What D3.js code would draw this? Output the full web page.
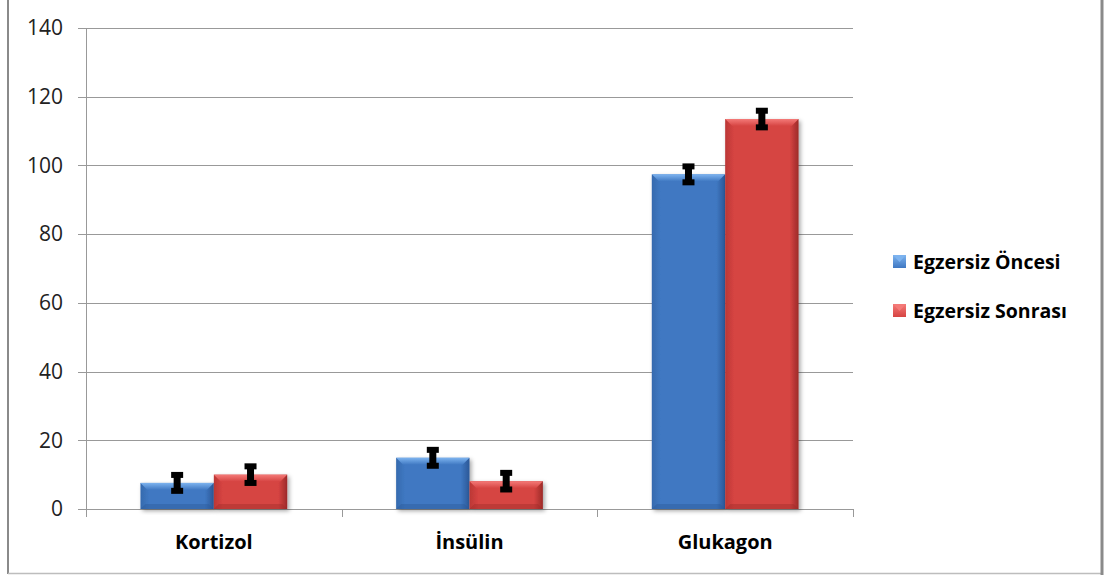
<!DOCTYPE html>
<html lang="tr">
<head>
    <meta charset="UTF-8">
    <title>Egzersiz Öncesi / Sonrası</title>
    <script src="https://d3js.org/d3.v7.min.js"></script>
    <style>
        body { margin: 0; background: #fff; }
        svg { display: block; }
        .axis-y text { font-family: "Open Sans", sans-serif; font-size: 21px; fill: #222; }
        .axis-x text { font-family: "Open Sans", sans-serif; font-size: 20px; font-weight: bold; fill: #000; }
        .axis path, .axis line { stroke: #999; shape-rendering: crispEdges; }
        .grid line { stroke: #999; shape-rendering: crispEdges; }
        .legend text { font-family: "Open Sans", sans-serif; font-size: 19.5px; font-weight: bold; fill: #000; }
    </style>
</head>
<body>
<svg width="1107" height="575"></svg>
<script>
    // data
    const categories = ["Kortizol", "İnsülin", "Glukagon"];
    const seriesNames = ["Egzersiz Öncesi", "Egzersiz Sonrası"];
    const before = [7.6, 14.9, 97.4];
    const after = [10.0, 8.1, 113.5];
    const beforeErr = [2.9, 2.9, 2.9];
    const afterErr = [3.0, 3.0, 3.0];
    const yTicks = [0, 20, 40, 60, 80, 100, 120, 140];

    const margin = { top: 28, left: 86 };
    const width = 853 - 86;
    const height = 509 - 28;

    const svg = d3.select("svg");

    // outer frame (chart area border, partly clipped)
    svg.append("line").attr("x1", 8).attr("x2", 8).attr("y1", 0).attr("y2", 574)
        .attr("stroke", "#8a8a8a").attr("stroke-width", 2);
    svg.append("line").attr("x1", 8).attr("x2", 1102).attr("y1", 573.5).attr("y2", 573.5)
        .attr("stroke", "#bdbdbd").attr("stroke-width", 1.5);
    svg.append("line").attr("x1", 1102).attr("x2", 1102).attr("y1", 0).attr("y2", 575)
        .attr("stroke", "#8a8a8a").attr("stroke-width", 3);

    const colors = [
        { main: "#3f78c2", light: "#7db3ef", dark: "#2b5797", side: "#356aae" },
        { main: "#d64442", light: "#f47a78", dark: "#9c2a28", side: "#bb3735" }
    ];

    // gradients
    const defs = svg.append("defs");
    colors.forEach((c, i) => {
        const g = defs.append("linearGradient").attr("id", "body" + i)
            .attr("x1", 0).attr("x2", 1).attr("y1", 0).attr("y2", 0);
        g.append("stop").attr("offset", "0%").attr("stop-color", c.side);
        g.append("stop").attr("offset", "12%").attr("stop-color", c.main);
        g.append("stop").attr("offset", "88%").attr("stop-color", c.main);
        g.append("stop").attr("offset", "100%").attr("stop-color", c.dark);
        const t = defs.append("linearGradient").attr("id", "top" + i)
            .attr("x1", 0).attr("x2", 0).attr("y1", 0).attr("y2", 1);
        t.append("stop").attr("offset", "0%").attr("stop-color", c.light);
        t.append("stop").attr("offset", "100%").attr("stop-color", c.main);
    });
    const shadow = defs.append("filter").attr("id", "shadow")
        .attr("x", "-20%").attr("y", "-20%").attr("width", "140%").attr("height", "140%");
    shadow.append("feDropShadow").attr("dx", 2).attr("dy", 2).attr("stdDeviation", 2)
        .attr("flood-color", "#000").attr("flood-opacity", 0.35);

    const g = svg.append("g").attr("transform", `translate(${margin.left},${margin.top})`);

    const x0 = d3.scaleBand().domain(categories).range([0, width]).paddingInner(0).paddingOuter(0);
    const x1 = d3.scaleBand().domain([0, 1]).range([x0.bandwidth() * 0.213, x0.bandwidth() * 0.787]);
    const y = d3.scaleLinear().domain([0, 140]).range([height, 0]);

    // grid
    g.append("g").attr("class", "grid")
        .selectAll("line").data(yTicks.slice(1)).enter().append("line")
        .attr("x1", 0).attr("x2", width)
        .attr("y1", d => Math.round(y(d)) + 0.5).attr("y2", d => Math.round(y(d)) + 0.5);

    // y axis
    g.append("g").attr("class", "axis axis-y")
        .call(d3.axisLeft(y).tickValues(yTicks).tickSize(8).tickPadding(15))
        .call(s => s.select(".domain").attr("d", `M0.5,0V${height}`));

    // x axis
    const xAxis = g.append("g").attr("class", "axis axis-x")
        .attr("transform", `translate(0,${height})`)
        .call(d3.axisBottom(x0).tickSize(0).tickPadding(26));
    xAxis.select(".domain").attr("d", `M0,0.5H${width}`);
    xAxis.selectAll(".bound").data(d3.range(categories.length + 1)).enter().append("line")
        .attr("class", "bound")
        .attr("x1", d => Math.round(d * x0.bandwidth()) + 0.5)
        .attr("x2", d => Math.round(d * x0.bandwidth()) + 0.5)
        .attr("y1", 0).attr("y2", 8);

    const rows = [];
    categories.forEach((c, i) => {
        rows.push({ cat: c, s: 0, v: before[i], e: beforeErr[i] });
        rows.push({ cat: c, s: 1, v: after[i], e: afterErr[i] });
    });

    const bev = 7;
    const bars = g.selectAll(".bar").data(rows).enter().append("g").attr("class", "bar")
        .attr("transform", d => `translate(${x0(d.cat) + x1(d.s)},0)`);
    const bw = x1.bandwidth();

    bars.append("rect")
        .attr("y", d => y(d.v)).attr("width", bw).attr("height", d => height - y(d.v))
        .attr("fill", d => `url(#body${d.s})`).attr("filter", "url(#shadow)");
    // top bevel
    bars.append("path")
        .attr("d", d => {
            const t = y(d.v), b = Math.min(bev, (height - t) / 2);
            return `M0,${t}H${bw}L${bw - b},${t + b}H${b}Z`;
        })
        .attr("fill", d => `url(#top${d.s})`);
    // bottom bevel
    bars.append("path")
        .attr("d", d => {
            const t = y(d.v), b = Math.min(5, (height - t) / 2);
            return `M0,${height}H${bw}L${bw - b},${height - b}H${b}Z`;
        })
        .attr("fill", d => colors[d.s].dark).attr("opacity", 0.4);

    // error bars
    const err = bars.append("g").attr("fill", "#000");
    err.append("rect")
        .attr("x", bw / 2 - 3.5).attr("width", 7)
        .attr("y", d => y(d.v + d.e)).attr("height", d => y(d.v - d.e) - y(d.v + d.e));
    err.append("rect")
        .attr("x", bw / 2 - 6).attr("width", 12)
        .attr("y", d => y(d.v + d.e) - 1).attr("height", 6);
    err.append("rect")
        .attr("x", bw / 2 - 6).attr("width", 12)
        .attr("y", d => y(d.v - d.e) - 5).attr("height", 6);

    // legend
    const legend = svg.append("g").attr("class", "legend");
    const items = legend.selectAll("g").data(seriesNames).enter().append("g")
        .attr("transform", (d, i) => `translate(893,${262 + i * 49})`);
    items.append("rect").attr("x", 0).attr("y", -7).attr("width", 13).attr("height", 13)
        .attr("fill", (d, i) => `url(#top${i})`);
    items.append("path").attr("d", "M0,-7H13L6.5,0Z").attr("fill", (d, i) => colors[i].light);
    items.append("text").attr("x", 20).attr("dy", "0.35em").text(d => d);
</script>
</body>
</html>
